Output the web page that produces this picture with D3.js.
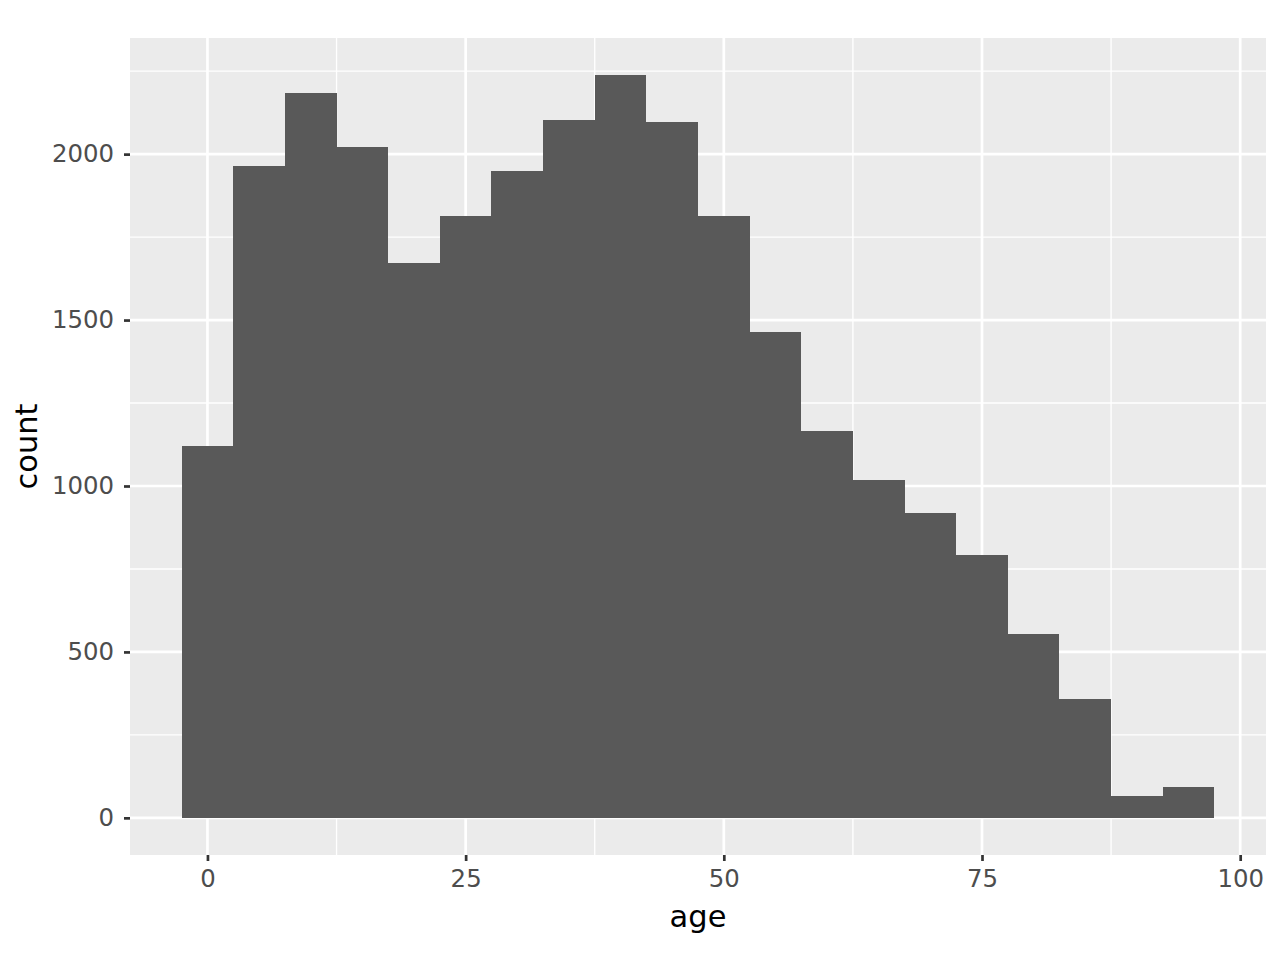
<!DOCTYPE html>
<html>
<head>
<meta charset="utf-8">
<script src="https://cdn.jsdelivr.net/npm/d3@7"></script>
<style>
  body { margin: 0; background: #fff; }
  svg { display: block; font-family: "DejaVu Sans", sans-serif; }
</style>
</head>
<body>
<div id="chart"></div>
<script>
// histogram of age, binwidth 5
var binCenters = [0, 5, 10, 15, 20, 25, 30, 35, 40, 45, 50, 55, 60, 65, 70, 75, 80, 85, 90, 95];
var counts = [1122, 1964, 2184, 2021, 1671, 1813, 1949, 2103, 2238, 2097, 1813, 1463, 1167, 1019, 919, 792, 554, 358, 65, 92];
var xTicks = [0, 25, 50, 75, 100];
var xMinor = [12.5, 37.5, 62.5, 87.5];
var yTicks = [0, 500, 1000, 1500, 2000];
var yMinor = [250, 750, 1250, 1750, 2250];
var binWidth = 5;

var width = 1280, height = 960;
var panel = {left: 130, right: 1266, top: 38, bottom: 855};

var svg = d3.select("#chart").append("svg")
  .attr("width", width)
  .attr("height", height);

// ggplot style 5% expansion
var xmin = binCenters[0] - binWidth / 2, xmax = binCenters[binCenters.length - 1] + binWidth / 2;
var xpad = (xmax - xmin) * 0.05;
var x = d3.scaleLinear()
  .domain([xmin - xpad, xmax + xpad])
  .range([panel.left, panel.right]);

var ymax = d3.max(counts);
var y = d3.scaleLinear()
  .domain([-ymax * 0.05, ymax * 1.05])
  .range([panel.bottom, panel.top]);

// panel background
svg.append("rect")
  .attr("x", panel.left)
  .attr("y", panel.top)
  .attr("width", panel.right - panel.left)
  .attr("height", panel.bottom - panel.top)
  .attr("fill", "#ebebeb");

var grid = svg.append("g");

// minor grid
grid.selectAll(".ymin").data(yMinor).enter().append("line")
  .attr("x1", panel.left).attr("x2", panel.right)
  .attr("y1", d => y(d)).attr("y2", d => y(d))
  .attr("stroke", "#fff").attr("stroke-width", 1.35);
grid.selectAll(".xmin").data(xMinor).enter().append("line")
  .attr("y1", panel.top).attr("y2", panel.bottom)
  .attr("x1", d => x(d)).attr("x2", d => x(d))
  .attr("stroke", "#fff").attr("stroke-width", 1.35);

// major grid
grid.selectAll(".ymaj").data(yTicks).enter().append("line")
  .attr("x1", panel.left).attr("x2", panel.right)
  .attr("y1", d => y(d)).attr("y2", d => y(d))
  .attr("stroke", "#fff").attr("stroke-width", 2.7);
grid.selectAll(".xmaj").data(xTicks).enter().append("line")
  .attr("y1", panel.top).attr("y2", panel.bottom)
  .attr("x1", d => x(d)).attr("x2", d => x(d))
  .attr("stroke", "#fff").attr("stroke-width", 2.7);

// bars
svg.selectAll(".bar")
  .data(binCenters)
  .enter().append("rect")
  .attr("class", "bar")
  .attr("x", d => x(d - binWidth / 2))
  .attr("width", d => x(d + binWidth / 2) - x(d - binWidth / 2))
  .attr("y", (d, i) => y(counts[i]))
  .attr("height", (d, i) => y(0) - y(counts[i]))
  .attr("fill", "#595959")
  .attr("shape-rendering", "crispEdges");

// axes
var xAxis = svg.append("g")
  .attr("transform", "translate(0," + panel.bottom + ")")
  .call(d3.axisBottom(x).tickValues(xTicks).tickSize(6).tickPadding(9).tickFormat(d3.format("d")));
var yAxis = svg.append("g")
  .attr("transform", "translate(" + panel.left + ",0)")
  .call(d3.axisLeft(y).tickValues(yTicks).tickSize(6).tickPadding(10).tickFormat(d3.format("d")));

[xAxis, yAxis].forEach(function(a) {
  a.select(".domain").remove();
  a.selectAll(".tick line").attr("stroke", "#333").attr("stroke-width", 2.7);
  a.selectAll(".tick text")
    .attr("fill", "#4d4d4d")
    .style("font-size", "24.4px")
    .style("font-family", "DejaVu Sans, sans-serif");
});

// axis titles
svg.append("text")
  .attr("x", (panel.left + panel.right) / 2)
  .attr("y", 927)
  .attr("text-anchor", "middle")
  .style("font-size", "30.5px")
  .attr("fill", "#000")
  .text("age");

svg.append("text")
  .attr("transform", "translate(37," + (panel.top + panel.bottom) / 2 + ") rotate(-90)")
  .attr("text-anchor", "middle")
  .style("font-size", "30.5px")
  .attr("fill", "#000")
  .text("count");
</script>
</body>
</html>
